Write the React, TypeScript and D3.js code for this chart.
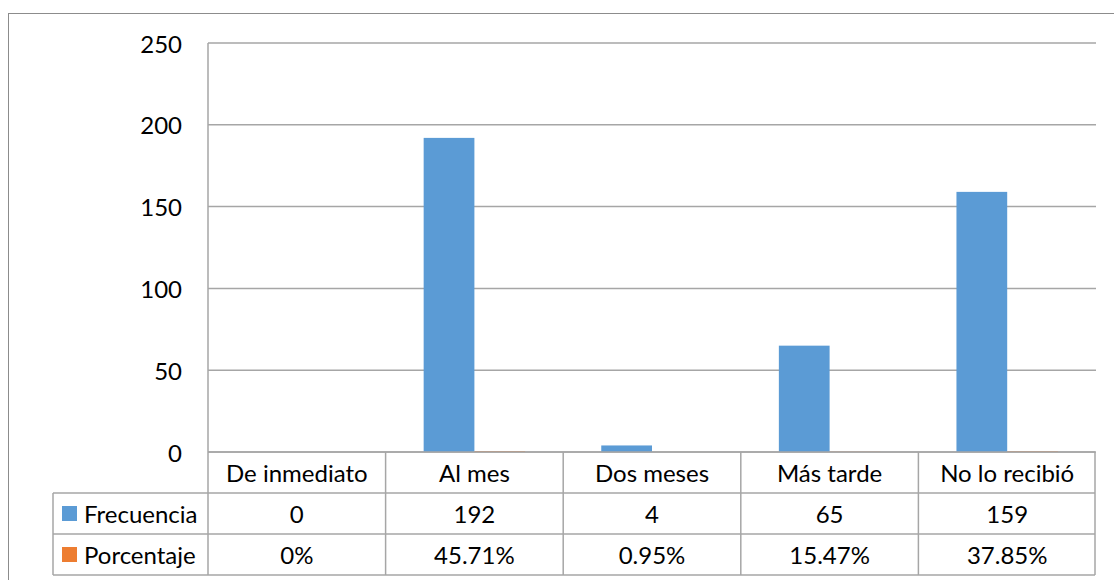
import React from 'react';
import * as d3 from 'd3';

// Chart values
const categories = ['De inmediato', 'Al mes', 'Dos meses', 'Más tarde', 'No lo recibió'];
const seriesNames = ['Frecuencia', 'Porcentaje'];
const frecuencia = [0, 192, 4, 65, 159];
const porcentaje = [0, 0.4571, 0.0095, 0.1547, 0.3785];
const porcentajeLabels = ['0%', '45.71%', '0.95%', '15.47%', '37.85%'];
const yTicks = [0, 50, 100, 150, 200, 250];

const colors = ['#5b9bd5', '#ed7d31'];
const FONT = 'Lato, "Open Sans", sans-serif';

const W = 1114;
const H = 580;

const App: React.FC = () => {
  const plotLeft = 208;
  const plotRight = 1096;
  const plotTop = 43;
  const plotBottom = 452;
  const rowH = 41;
  const legendLeft = 53;
  const fontSize = 24;

  const x0 = d3.scaleBand<string>().domain(categories).range([plotLeft, plotRight]).padding(0);
  const x1 = d3.scaleBand<string>()
    .domain(seriesNames)
    .range([0, x0.bandwidth()])
    .paddingInner(0)
    .paddingOuter(0.75);
  const y = d3.scaleLinear().domain([0, 250]).range([plotBottom, plotTop]);

  const series = [frecuencia, porcentaje];
  const rowLabels = [frecuencia.map(String), porcentajeLabels];
  const gridColor = '#a6a6a6';

  const tableBottom = plotBottom + rowH * 3;

  return (
    <svg width={W} height={H} style={{ display: 'block', position: 'absolute', left: 0, top: 0 }}>
      <rect x={0} y={0} width={W} height={H} fill="#fff" />
      {/* chart area border */}
      <rect x={8.5} y={13.5} width={W} height={H} fill="none" stroke="#8c8c8c" strokeWidth={1} />

      {/* horizontal gridlines */}
      {yTicks.map(t => (
        <line key={t} x1={plotLeft} x2={plotRight} y1={y(t)} y2={y(t)} stroke={gridColor} strokeWidth={1.5} />
      ))}
      <line x1={plotLeft} x2={plotLeft} y1={plotTop} y2={tableBottom} stroke={gridColor} strokeWidth={1.5} />

      {/* y tick labels */}
      {yTicks.map(t => (
        <text key={'l' + t} x={182} y={y(t)} textAnchor="end" dominantBaseline="central"
          fontFamily={FONT} fontSize={fontSize} fill="#000">{t}</text>
      ))}

      {/* bars */}
      {series.map((vals, si) =>
        vals.map((v, i) => {
          const bx = (x0(categories[i]) || 0) + (x1(seriesNames[si]) || 0);
          return (
            <rect key={si + '-' + i} x={bx} y={y(v)} width={x1.bandwidth()} height={plotBottom - y(v)} fill={colors[si]} />
          );
        })
      )}

      {/* data table */}
      <line x1={plotLeft} x2={plotRight - 1} y1={plotBottom} y2={plotBottom} stroke={gridColor} strokeWidth={1.5} />
      {[1, 2, 3].map(r => (
        <line key={'h' + r} x1={legendLeft} x2={plotRight - 1} y1={plotBottom + rowH * r} y2={plotBottom + rowH * r}
          stroke={gridColor} strokeWidth={1.5} />
      ))}
      <line x1={legendLeft} x2={legendLeft} y1={plotBottom + rowH} y2={tableBottom} stroke={gridColor} strokeWidth={1.5} />
      {categories.map((c, i) => {
        const right = (x0(c) || 0) + x0.bandwidth() - (i === categories.length - 1 ? 1 : 0);
        return (
          <line key={'v' + c} x1={right} x2={right} y1={plotBottom} y2={tableBottom} stroke={gridColor} strokeWidth={1.5} />
        );
      })}

      {categories.map(c => (
        <text key={'c' + c} x={(x0(c) || 0) + x0.bandwidth() / 2} y={plotBottom + rowH / 2}
          textAnchor="middle" dominantBaseline="central" fontFamily={FONT} fontSize={fontSize} fill="#000">{c}</text>
      ))}

      {rowLabels.map((labels, si) => (
        <g key={'row' + si}>
          <rect x={62} y={plotBottom + rowH * (si + 1) + rowH / 2 - 7.5} width={15} height={15} fill={colors[si]} />
          <text x={84} y={plotBottom + rowH * (si + 1) + rowH / 2} dominantBaseline="central"
            fontFamily={FONT} fontSize={fontSize} fill="#000">{seriesNames[si]}</text>
          {labels.map((l, i) => (
            <text key={i} x={(x0(categories[i]) || 0) + x0.bandwidth() / 2} y={plotBottom + rowH * (si + 1) + rowH / 2}
              textAnchor="middle" dominantBaseline="central" fontFamily={FONT} fontSize={fontSize} fill="#000">{l}</text>
          ))}
        </g>
      ))}
    </svg>
  );
};

export default App;
